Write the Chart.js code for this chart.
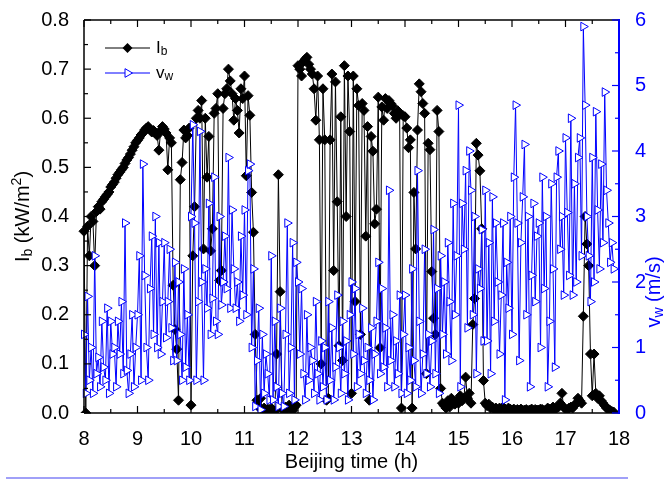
<!DOCTYPE html>
<html><head><meta charset="utf-8">
<script src="https://cdn.jsdelivr.net/npm/chart.js@4.4.1/dist/chart.umd.min.js"></script>
<style>html,body{margin:0;padding:0;background:#fff;}canvas{display:block;}</style>
</head><body>
<canvas id="c" width="666" height="480"></canvas>
<script>
// Sample times, minutes after midnight (Beijing time), 2-minute records
const timeMinutes = [
480,482,484,486,488,490,492,494,496,498,500,502,504,506,508,
510,512,514,516,518,520,522,524,526,528,530,532,534,536,538,
540,542,544,546,548,550,552,554,556,558,560,562,564,566,568,
570,572,574,576,578,580,582,584,586,588,590,592,594,596,598,
600,602,604,606,608,610,612,614,616,618,620,622,624,626,628,
630,632,634,636,638,640,642,644,646,648,650,652,654,656,658,
660,662,664,666,668,670,672,674,676,678,680,682,684,686,688,
690,692,694,696,698,700,702,704,706,708,710,712,714,716,718,
720,722,724,726,728,730,732,734,736,738,740,742,744,746,748,
750,752,754,756,758,760,762,764,766,768,770,772,774,776,778,
780,782,784,786,788,790,792,794,796,798,800,802,804,806,808,
810,812,814,816,818,820,822,824,826,828,830,832,834,836,838,
840,842,844,846,848,850,852,854,856,858,860,862,864,866,868,
870,872,874,876,878,880,882,884,886,888,890,892,894,896,898,
900,902,904,906,908,910,912,914,916,918,920,922,924,926,928,
930,932,934,936,938,940,942,944,946,948,950,952,954,956,958,
960,962,964,966,968,970,972,974,976,978,980,982,984,986,988,
990,992,994,996,998,1000,1002,1004,1006,1008,1010,1012,1014,1016,1018,
1020,1022,1024,1026,1028,1030,1032,1034,1036,1038,1040,1042,1044,1046,1048,
1050,1052,1054,1056,1058,1060,1062,1064,1066,1068,1070,1072,1074
];
// Ib (kW/m2), left axis
const ibValues = [
0.37,0.00,0.38,0.32,0.40,0.39,0.30,0.41,0.42,0.415,0.43,0.435,0.44,0.445,0.45,
0.46,0.465,0.47,0.478,0.485,0.49,0.495,0.50,0.508,0.515,0.52,0.527,0.535,0.542,0.55,
0.555,0.56,0.566,0.57,0.576,0.58,0.583,0.578,0.572,0.575,0.57,0.565,0.535,0.575,0.583,
0.578,0.57,0.495,0.56,0.55,0.26,0.17,0.13,0.026,0.475,0.51,0.576,0.56,0.565,0.58,
0.016,0.32,0.42,0.60,0.616,0.60,0.636,0.334,0.60,0.48,0.563,0.33,0.375,0.61,0.62,
0.65,0.27,0.29,0.62,0.65,0.66,0.70,0.676,0.65,0.596,0.64,0.616,0.57,0.66,0.64,
0.686,0.483,0.646,0.606,0.449,0.368,0.16,0.026,0.012,0.03,0.005,0.01,0.005,0.008,0.004,
0.01,0.006,0.004,0.12,0.485,0.247,0.01,0.005,0.012,0.008,0.016,0.01,0.005,0.012,0.016,
0.707,0.70,0.686,0.715,0.72,0.724,0.71,0.70,0.69,0.66,0.596,0.686,0.556,0.10,0.66,
0.556,0.026,0.03,0.556,0.69,0.29,0.674,0.43,0.137,0.603,0.107,0.707,0.40,0.686,0.573,
0.04,0.686,0.227,0.66,0.626,0.16,0.63,0.616,0.36,0.583,0.026,0.563,0.533,0.385,0.415,
0.643,0.133,0.623,0.596,0.64,0.62,0.636,0.63,0.625,0.61,0.60,0.615,0.61,0.01,0.605,
0.603,0.58,0.54,0.556,0.01,0.449,0.334,0.576,0.67,0.654,0.63,0.61,0.08,0.549,0.536,
0.288,0.193,0.16,0.616,0.573,0.05,0.02,0.015,0.01,0.025,0.012,0.03,0.02,0.018,0.025,
0.02,0.035,0.025,0.03,0.073,0.03,0.04,0.02,0.18,0.233,0.549,0.525,0.493,0.375,0.066,
0.02,0.015,0.018,0.01,0.012,0.008,0.01,0.006,0.01,0.008,0.012,0.008,0.006,0.01,0.008,
0.006,0.008,0.005,0.007,0.006,0.008,0.005,0.006,0.007,0.005,0.006,0.008,0.005,0.007,0.006,
0.006,0.008,0.007,0.005,0.006,0.01,0.008,0.006,0.012,0.008,0.01,0.012,0.02,0.04,0.012,
0.008,0.006,0.01,0.012,0.01,0.015,0.02,0.03,0.025,0.02,0.197,0.40,0.344,0.30,0.12,
0.035,0.12,0.04,0.03,0.035,0.025,0.02,0.015,0.01,0.008,0.005,0.003,0.002
];
// vw (m/s), right axis
const vwValues = [
1.2,0.3,1.78,0.5,1.0,0.3,2.4,0.6,0.85,0.4,1.4,0.7,0.5,1.6,0.3,
1.4,0.9,1.0,0.4,1.4,0.9,1.7,0.6,2.9,0.65,0.3,0.9,1.5,0.4,1.0,
1.5,2.4,0.5,3.8,2.1,1.0,0.5,1.9,2.7,1.2,3.0,1.0,2.6,0.9,1.7,
2.6,1.15,1.7,2.5,1.3,0.8,2.3,0.8,2.0,1.2,0.5,2.2,0.7,1.5,0.5,
3.0,4.4,2.9,0.5,1.7,4.3,2.0,0.5,2.2,1.6,3.2,1.2,1.75,3.6,1.4,
1.2,3.0,1.65,2.0,2.7,1.9,3.9,1.6,3.1,2.2,1.6,2.0,1.4,2.7,1.8,
3.1,1.5,3.7,3.8,1.0,2.2,0.1,0.8,1.6,0.05,1.2,0.3,0.9,0.6,0.2,
2.4,0.2,1.4,0.4,0.1,1.6,0.3,0.1,1.2,2.9,0.3,1.0,2.6,0.2,2.3,
2.0,0.9,1.9,0.6,0.2,1.5,0.5,1.0,0.8,0.3,1.7,0.6,0.2,1.1,0.4,
1.0,0.2,1.7,0.5,1.3,0.2,0.7,1.8,1.0,0.3,1.4,0.6,1.1,0.2,1.5,
2.0,0.9,1.9,0.4,1.2,0.6,1.6,0.8,0.3,1.0,0.5,1.3,0.2,0.9,1.4,
2.3,0.6,1.9,0.7,1.3,0.4,3.4,0.8,1.5,0.4,1.1,0.6,1.8,0.3,1.2,
1.8,0.3,1.0,0.5,2.2,0.8,0.4,3.7,1.4,0.3,0.9,2.5,0.6,1.2,0.4,
1.1,2.8,0.6,1.9,0.3,2.4,1.2,2.0,0.9,2.6,1.7,0.8,3.2,1.5,2.4,
4.7,0.4,3.2,2.5,3.7,1.3,4.0,3.4,1.5,3.0,0.6,2.2,1.9,2.8,1.1,
3.4,1.1,2.6,0.6,3.3,1.4,2.9,2.0,0.9,1.8,2.9,0.2,2.3,1.6,3.0,
1.2,3.6,4.7,2.9,0.8,2.6,3.3,4.1,1.5,3.0,0.4,2.1,3.2,1.7,2.7,
2.9,1.0,3.6,1.9,3.0,0.4,1.4,3.5,2.2,0.7,3.6,4.0,2.5,3.0,1.8,
4.2,3.06,2.1,4.5,1.8,3.5,2.0,3.9,4.2,2.4,5.9,4.7,3.0,2.4,1.7,
3.9,2.0,4.6,3.1,2.2,3.8,2.6,4.9,3.4,2.9,2.3,2.6,2.2
];
const xRange = [8, 18];
const ibRange = [0, 0.8];
const vwRange = [0, 6];

const FONT = '"Liberation Sans", Arial, Helvetica, sans-serif';
const BLUE = '#0000ff';
const TICK_FS = 20, TITLE_FS = 20, LEG_FS = 17;

function richWidth(ctx, parts){
  let w = 0;
  for (const p of parts){ ctx.font = p.size + 'px ' + FONT; w += ctx.measureText(p.t).width; }
  return w;
}
function drawRich(ctx, parts, x, y, rot, align, color){
  ctx.save();
  ctx.translate(x, y); ctx.rotate(rot);
  const w = richWidth(ctx, parts);
  let cx = align === 'center' ? -w/2 : 0;
  ctx.textBaseline = 'middle'; ctx.textAlign = 'left';
  for (const p of parts){
    ctx.font = p.size + 'px ' + FONT;
    ctx.fillStyle = color;
    ctx.fillText(p.t, cx, p.dy || 0);
    cx += ctx.measureText(p.t).width;
  }
  ctx.restore();
}

const decor = {
  id: 'decor',
  afterDatasetsDraw(chart){
    const {ctx, chartArea: a, scales} = chart;
    const x = scales.x, y = scales.y, y1 = scales.y1;
    ctx.save();
    const seg = (x1,y1_,x2,y2)=>{ctx.beginPath();ctx.moveTo(x1,y1_);ctx.lineTo(x2,y2);ctx.stroke();};
    ctx.strokeStyle = '#000'; ctx.lineWidth = 1.5;
    seg(a.left, a.top, a.right, a.top);
    seg(a.left, a.bottom, a.right, a.bottom);
    seg(a.left, a.top, a.left, a.bottom);
    ctx.lineWidth = 1.2;
    const xt = x.ticks.map(t=>t.value);
    for (let i=0;i<xt.length;i++){
      const p = x.getPixelForValue(xt[i]);
      seg(p, a.bottom, p, a.bottom-7); seg(p, a.top, p, a.top+7);
      if (i < xt.length-1){
        const m = x.getPixelForValue((xt[i]+xt[i+1])/2);
        seg(m, a.bottom, m, a.bottom-4); seg(m, a.top, m, a.top+4);
      }
    }
    const yt = y.ticks.map(t=>t.value);
    for (let i=0;i<yt.length;i++){
      const p = y.getPixelForValue(yt[i]);
      seg(a.left, p, a.left+7, p);
      if (i < yt.length-1){
        const m = y.getPixelForValue((yt[i]+yt[i+1])/2);
        seg(a.left, m, a.left+4, m);
      }
    }
    ctx.strokeStyle = BLUE; ctx.lineWidth = 2;
    seg(a.right, a.top-1, a.right, a.bottom+1);
    ctx.lineWidth = 1.2;
    const rt = y1.ticks.map(t=>t.value);
    for (let i=0;i<rt.length;i++){
      const p = y1.getPixelForValue(rt[i]);
      seg(a.right, p, a.right-7, p);
      if (i < rt.length-1){
        const m = y1.getPixelForValue((rt[i]+rt[i+1])/2);
        seg(a.right, m, a.right-4, m);
      }
    }
    ctx.restore();
  },
  afterDraw(chart){
    const {ctx, chartArea: a} = chart;
    ctx.save();
    const lx1 = a.left + 21, lx2 = a.left + 66, lm = (lx1+lx2)/2;
    const ly1 = a.top + 28, ly2 = a.top + 53;
    ctx.lineWidth = 1;
    ctx.strokeStyle = '#000';
    ctx.beginPath(); ctx.moveTo(lx1, ly1); ctx.lineTo(lx2, ly1); ctx.stroke();
    ctx.fillStyle = '#000';
    ctx.beginPath(); ctx.moveTo(lm, ly1-5); ctx.lineTo(lm+5, ly1); ctx.lineTo(lm, ly1+5); ctx.lineTo(lm-5, ly1); ctx.closePath(); ctx.fill();
    ctx.strokeStyle = BLUE;
    ctx.beginPath(); ctx.moveTo(lx1, ly2); ctx.lineTo(lx2, ly2); ctx.stroke();
    ctx.fillStyle = '#fff';
    const r = 5;
    ctx.beginPath(); ctx.moveTo(lm+r, ly2); ctx.lineTo(lm - r/2, ly2 + r*0.866); ctx.lineTo(lm - r/2, ly2 - r*0.866); ctx.closePath(); ctx.fill(); ctx.stroke();
    drawRich(ctx, [{t:'I',size:LEG_FS},{t:'b',size:12,dy:4}], lx2+6, ly1, 0, 'left', '#000');
    drawRich(ctx, [{t:'v',size:LEG_FS},{t:'w',size:12,dy:4}], lx2+6, ly2, 0, 'left', '#000');
    drawRich(ctx, [{t:'I',size:TITLE_FS},{t:'b',size:14,dy:5},{t:' (kW/m',size:TITLE_FS},{t:'2',size:14,dy:-6},{t:')',size:TITLE_FS}],
      23, (a.top+a.bottom)/2, -Math.PI/2, 'center', '#000');
    drawRich(ctx, [{t:'v',size:TITLE_FS},{t:'w',size:14,dy:5},{t:' (m/s)',size:TITLE_FS}],
      654, 292, -Math.PI/2, 'center', BLUE);
    drawRich(ctx, [{t:'Beijing time (h)',size:TITLE_FS}], (a.left+a.right)/2, 462, 0, 'center', '#000');
    ctx.strokeStyle = '#a0a0f8'; ctx.lineWidth = 2;
    ctx.beginPath(); ctx.moveTo(6, 478); ctx.lineTo(628, 478); ctx.stroke();
    ctx.restore();
  }
};

const ibPoints = timeMinutes.map((m,i)=>({x:m/60, y:ibValues[i]}));
const vwPoints = timeMinutes.map((m,i)=>({x:m/60, y:vwValues[i]}));

new Chart(document.getElementById('c'), {
  type: 'line',
  data: { datasets: [
    { label: 'Ib', data: ibPoints, yAxisID: 'y', order: 2,
      borderColor: '#000', borderWidth: 1, tension: 0,
      pointStyle: 'rectRot', pointRadius: 5, pointBackgroundColor: '#000', pointBorderColor: '#000', pointBorderWidth: 1,
      clip: {left: 6, right: 6, top: 6, bottom: 0} },
    { label: 'vw', data: vwPoints, yAxisID: 'y1', order: 1,
      borderColor: BLUE, borderWidth: 1, tension: 0,
      pointStyle: 'triangle', pointRotation: 90, pointRadius: 5, pointBackgroundColor: '#fff', pointBorderColor: BLUE, pointBorderWidth: 1,
      clip: {left: 6, right: 6, top: 6, bottom: 0} }
  ]},
  options: {
    responsive: false, animation: false, devicePixelRatio: 1,
    layout: { padding: { top: 15, left: 0, right: 0, bottom: 0 } },
    plugins: { legend: {display: false}, tooltip: {enabled: false} },
    scales: {
      x: { type: 'linear', min: xRange[0], max: xRange[1],
        ticks: { stepSize: 1, color: '#000', font: {family: FONT, size: TICK_FS}, padding: 6, maxRotation: 0 },
        grid: { display: false }, border: { display: false },
        afterFit: s => { s.height = 67; } },
      y: { type: 'linear', position: 'left', min: ibRange[0], max: ibRange[1],
        ticks: { stepSize: 0.1, color: '#000', font: {family: FONT, size: TICK_FS}, padding: 7, callback: v => Number(v).toFixed(1) },
        grid: { display: false }, border: { display: false },
        afterFit: s => { s.width = 84; } },
      y1: { type: 'linear', position: 'right', min: vwRange[0], max: vwRange[1],
        ticks: { stepSize: 1, color: BLUE, font: {family: FONT, size: TICK_FS}, padding: 8 },
        grid: { display: false }, border: { display: false },
        afterFit: s => { s.width = 47; } }
    }
  },
  plugins: [decor]
});
</script>
</body></html>
